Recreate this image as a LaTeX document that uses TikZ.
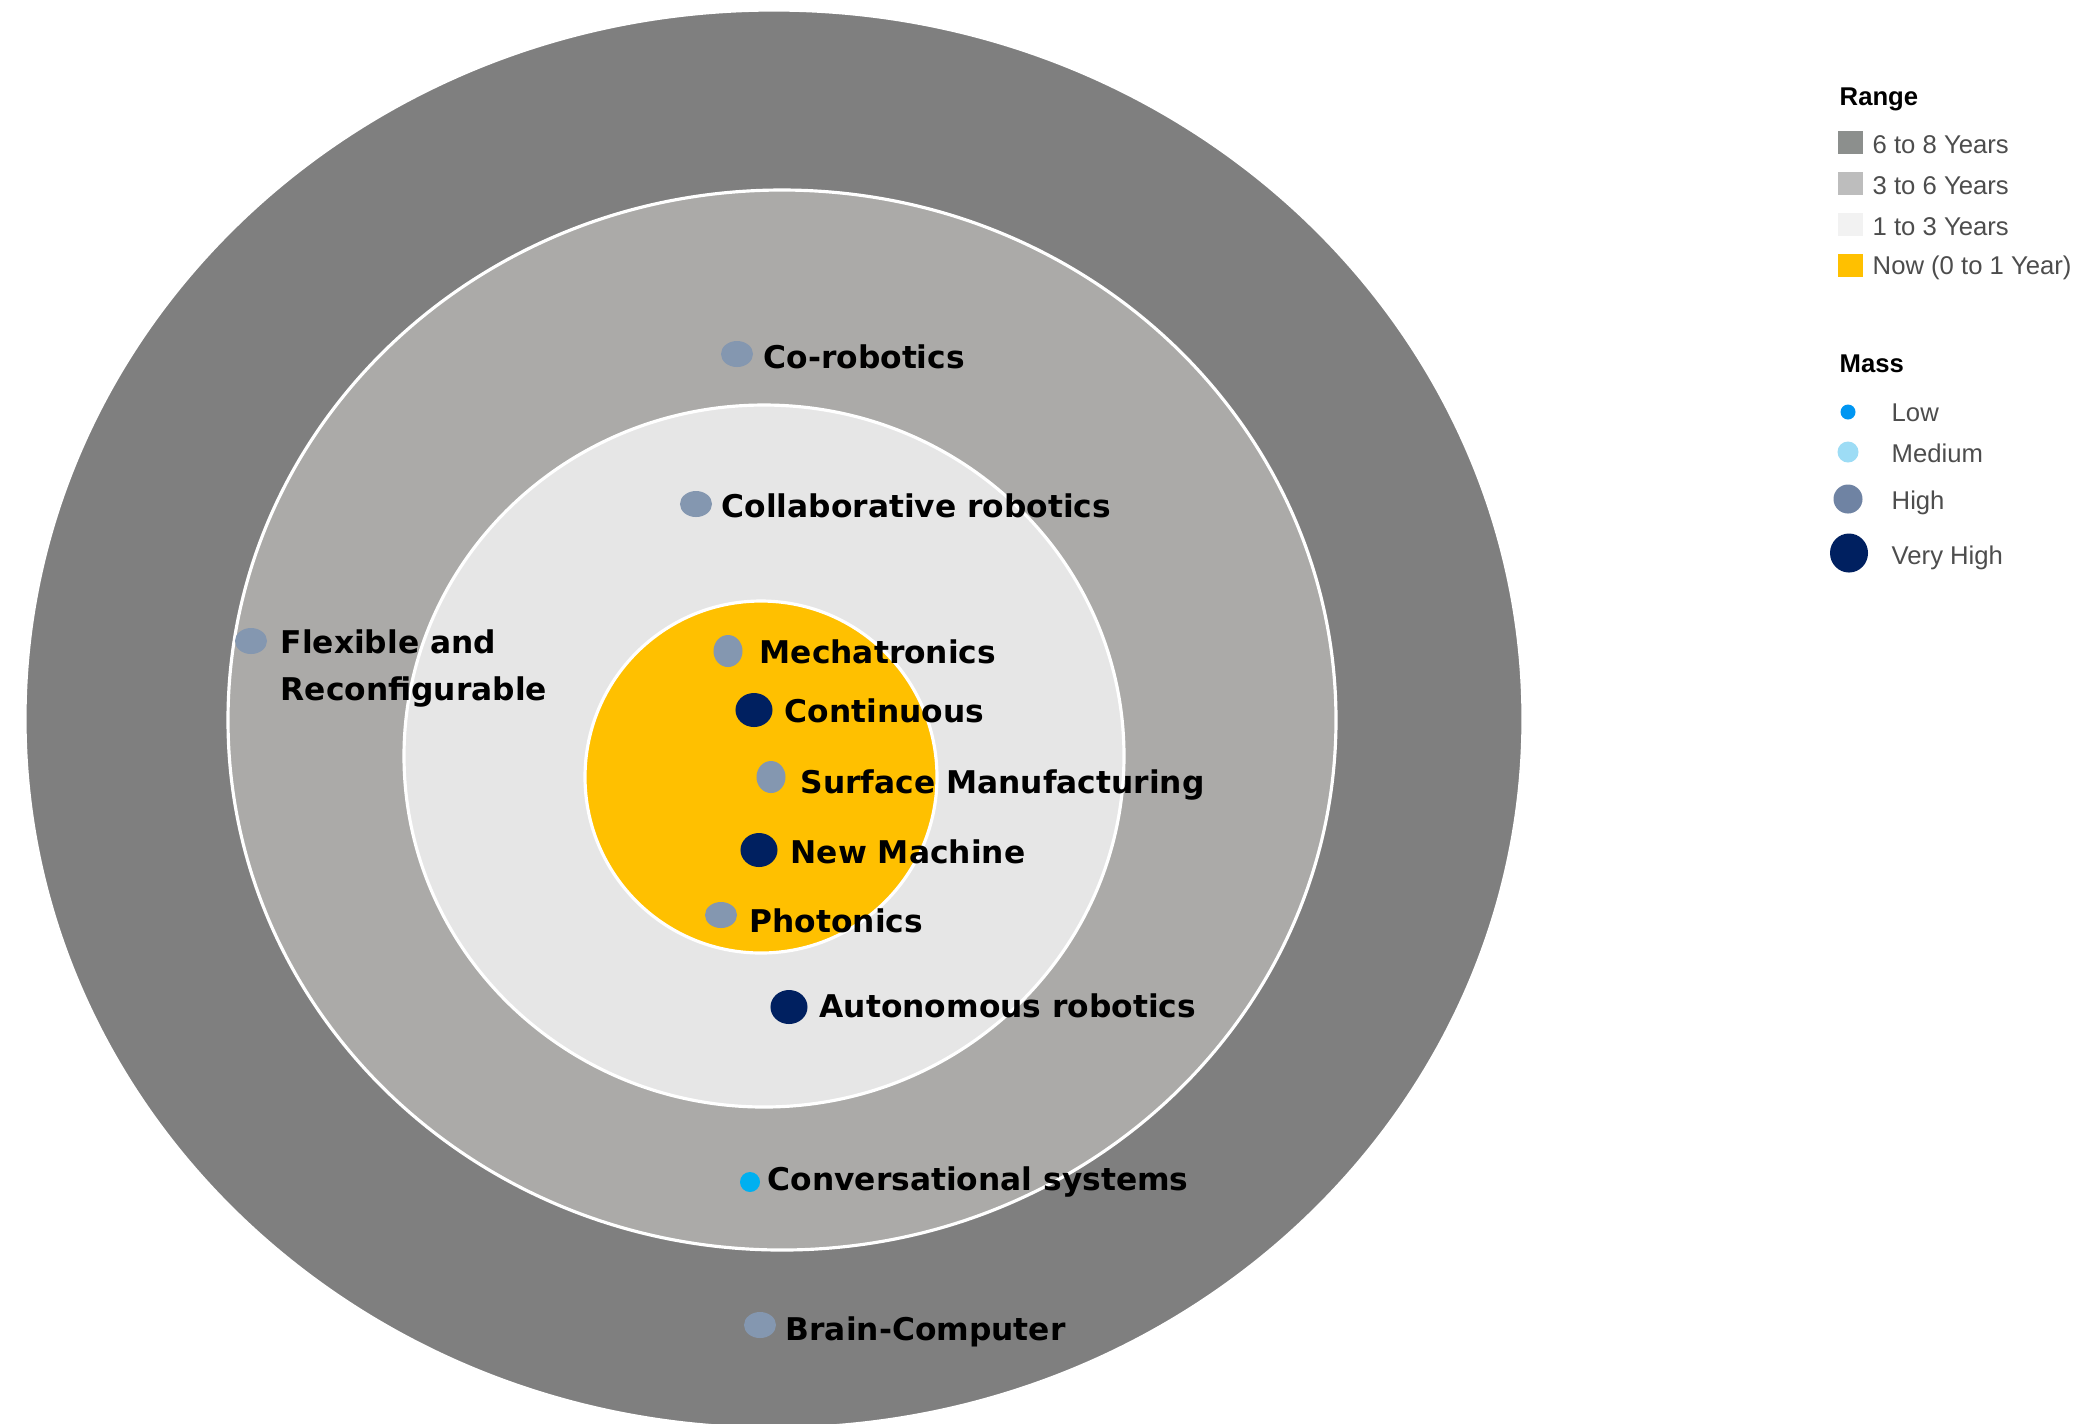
\documentclass[tikz,border=0pt]{standalone}
\usepackage{fontspec}
\setmainfont{DejaVu Sans}
\newfontfamily\legfont{Liberation Sans}
\usetikzlibrary{shapes.geometric}
\definecolor{ringA}{HTML}{7F7F7F}
\definecolor{ringB}{HTML}{ABAAA8}
\definecolor{ringC}{HTML}{E6E6E6}
\definecolor{nowY}{HTML}{FFC000}
\definecolor{highC}{HTML}{8497B0}
\definecolor{highL}{HTML}{6F83A3}
\definecolor{vhighC}{HTML}{002060}
\definecolor{lowC}{HTML}{00B0F0}
\definecolor{medC}{HTML}{9DDCF5}
\definecolor{legText}{HTML}{4D4D4D}
\definecolor{sqA}{HTML}{8C8F8D}
\definecolor{sqB}{HTML}{BDBDBD}
\definecolor{sqC}{HTML}{F2F2F2}
\begin{document}
\begin{tikzpicture}[x=0.01cm,y=-0.01cm,
  ringline/.style={draw=white,line width=0.9pt},
  lbl/.style={anchor=base west,inner sep=0pt,text=black,font=\fontsize{8.9}{10.7}\selectfont\bfseries},
  dotH/.style={ellipse,fill=highC,inner sep=0pt,minimum width=0.32cm,minimum height=0.26cm},
  dotHt/.style={ellipse,fill=highC,inner sep=0pt,minimum width=0.29cm,minimum height=0.32cm},
  dotVH/.style={ellipse,fill=vhighC,inner sep=0pt,minimum width=0.37cm,minimum height=0.34cm},
  dotL/.style={ellipse,fill=lowC,inner sep=0pt,minimum width=0.2cm,minimum height=0.2cm},
  legtitle/.style={anchor=base west,inner sep=0pt,text=black,font=\legfont\fontsize{7.3}{8.8}\selectfont\bfseries},
  legtxt/.style={anchor=base west,inner sep=0pt,text=legText,font=\legfont\fontsize{7.3}{8.8}\selectfont},
  legsq/.style={rectangle,inner sep=0pt,minimum width=0.25cm,minimum height=0.23cm}
]
\useasboundingbox (0,0) rectangle (2078,1423);
\clip (0,0) rectangle (2078,1423);
\fill[white] (0,0) rectangle (2078,1423);

% rings
\filldraw[fill=ringA,ringline] (774,719) ellipse [x radius=749,y radius=709];
\filldraw[fill=ringB,ringline] (782,720) ellipse [x radius=554,y radius=530];
\filldraw[fill=ringC,ringline] (764,756) ellipse [x radius=360,y radius=351];
\filldraw[fill=nowY,ringline] (761,777) ellipse [x radius=176,y radius=176];

% items
\node[dotH] (d1) at (737,354) {};
\node[lbl] (t1) at (763,368) {Co-robotics};
\node[dotH] (d2) at (696,504) {};
\node[lbl] (t2) at (721,517) {Collaborative robotics};
\node[dotH] (d3) at (251,641) {};
\node[lbl] (t3a) at (280,653) {Flexible and};
\node[lbl] (t3b) at (280,700) {Reconfigurable};
\node[dotHt] (d4) at (728,651) {};
\node[lbl] (t4) at (759,663) {Mechatronics};
\node[dotVH] (d5) at (754,710) {};
\node[lbl] (t5) at (784,722) {Continuous};
\node[dotHt] (d6) at (771,777) {};
\node[lbl] (t6) at (800,793) {Surface Manufacturing};
\node[dotVH] (d7) at (759,850) {};
\node[lbl] (t7) at (790,863) {New Machine};
\node[dotH] (d8) at (721,915) {};
\node[lbl] (t8) at (749,932) {Photonics};
\node[dotVH] (d9) at (789,1007) {};
\node[lbl] (t9) at (819,1017) {Autonomous robotics};
\node[dotL] (d10) at (750,1182) {};
\node[lbl] (t10) at (767,1190) {Conversational systems};
\node[dotH] (d11) at (760,1325) {};
\node[lbl] (t11) at (785,1340) {Brain-Computer};

% legend: range
\node[legtitle] (rangeT) at (1839,105) {Range};
\node[legsq,fill=sqA] (sq1) at (1850,142) {};
\node[legtxt] (r1) at (1872,153) {6 to 8 Years};
\node[legsq,fill=sqB] (sq2) at (1850,183) {};
\node[legtxt] (r2) at (1872,194) {3 to 6 Years};
\node[legsq,fill=sqC] (sq3) at (1850,224) {};
\node[legtxt] (r3) at (1872,235) {1 to 3 Years};
\node[legsq,fill=nowY] (sq4) at (1850,265) {};
\node[legtxt] (r4) at (1872,274) {Now (0 to 1 Year)};

% legend: mass
\node[legtitle] (massT) at (1839,372) {Mass};
\node[ellipse,fill=lowC!85!blue,inner sep=0pt,minimum size=0.15cm] (m1) at (1848,412) {};
\node[legtxt] (ml1) at (1891,421) {Low};
\node[ellipse,fill=medC,inner sep=0pt,minimum size=0.21cm] (m2) at (1848,452) {};
\node[legtxt] (ml2) at (1891,462) {Medium};
\node[ellipse,fill=highL,inner sep=0pt,minimum width=0.29cm,minimum height=0.29cm] (m3) at (1848,499) {};
\node[legtxt] (ml3) at (1891,509) {High};
\node[ellipse,fill=vhighC,inner sep=0pt,minimum width=0.38cm,minimum height=0.39cm] (m4) at (1849,553) {};
\node[legtxt] (ml4) at (1891,564) {Very High};
\end{tikzpicture}
\end{document}
